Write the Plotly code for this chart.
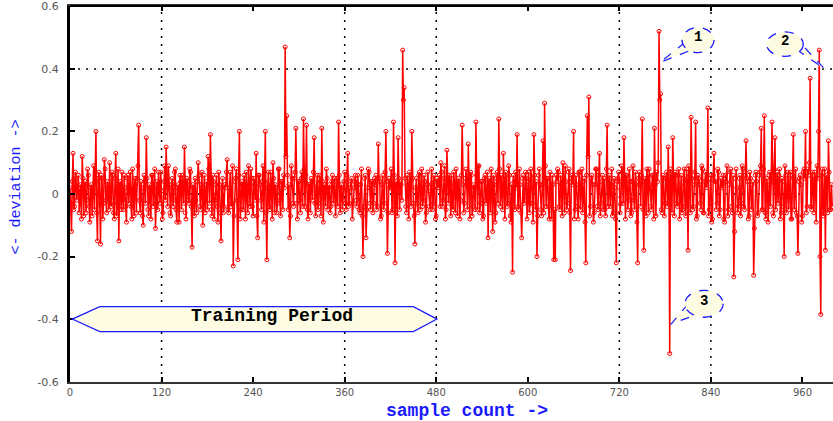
import plotly.graph_objects as go

# ---------------- data ----------------
# deviation at even sample counts 0, 2, 4, ... 998
deviation_even_samples = [
    0.02,-0.12,0.13,-0.04,0.05,0.01,-0.06,0.03,0.12,-0.07,
    0.04,-0.02,0.06,-0.09,0.03,0.01,-0.05,0.20,-0.15,0.07,
    -0.16,0.05,-0.03,0.08,-0.06,0.02,0.10,-0.04,0.06,-0.08,
    0.13,-0.03,-0.15,0.04,0.07,-0.05,0.02,-0.09,0.06,0.01,
    -0.04,0.08,-0.07,0.03,0.05,0.22,-0.06,0.02,-0.10,0.04,

    0.18,-0.05,0.03,-0.08,0.06,0.02,-0.11,0.04,0.07,-0.03,
    0.01,-0.06,0.09,0.15,-0.04,0.02,-0.07,0.05,-0.02,0.08,
    -0.09,0.03,0.06,-0.05,0.01,0.15,-0.08,0.04,-0.03,0.07,
    -0.17,0.02,0.05,-0.06,0.10,-0.04,0.03,-0.10,0.06,0.01,
    -0.05,0.08,0.19,-0.07,0.04,-0.02,0.06,-0.09,0.03,-0.15,

    0.05,-0.04,0.02,0.11,-0.06,0.07,-0.03,-0.23,0.04,0.08,
    -0.21,0.20,-0.05,0.03,0.06,-0.08,0.02,0.09,-0.04,0.05,
    -0.07,0.03,0.13,-0.14,0.06,-0.02,0.04,-0.09,0.20,-0.21,
    0.07,-0.05,0.03,0.10,-0.06,0.02,-0.03,0.08,-0.07,0.04,
    0.06,0.47,0.25,-0.05,-0.14,0.09,-0.03,0.05,0.21,-0.08,

    0.04,-0.06,0.07,0.24,-0.04,0.22,-0.08,0.03,0.05,-0.02,
    0.18,-0.07,0.06,-0.03,0.04,0.21,-0.09,0.02,0.08,-0.05,
    0.03,-0.04,0.06,0.01,-0.07,0.05,0.23,-0.06,0.03,-0.02,
    0.07,-0.05,0.13,-0.03,0.04,-0.08,0.02,0.06,-0.04,0.03,
    -0.06,0.08,-0.20,0.05,-0.14,0.02,0.07,-0.05,0.04,-0.03,

    0.03,-0.05,0.16,0.04,-0.07,0.06,-0.03,0.20,-0.19,0.05,
    0.02,-0.06,0.23,-0.22,0.04,0.18,-0.05,0.03,0.46,0.34,
    -0.04,0.06,-0.08,0.02,0.20,-0.03,-0.16,0.05,-0.06,0.07,
    0.02,-0.04,0.06,-0.09,0.03,0.01,-0.05,0.08,-0.03,0.04,
    -0.07,0.02,0.06,0.10,-0.04,0.05,-0.08,0.14,-0.03,0.04,

    0.06,-0.05,0.03,0.08,-0.07,0.04,-0.02,0.22,-0.06,0.05,
    0.03,0.16,-0.08,0.06,-0.04,0.02,0.23,-0.05,0.09,-0.03,
    0.04,-0.07,0.06,-0.03,-0.14,0.05,0.08,-0.12,0.03,-0.06,
    0.07,0.24,-0.04,0.02,0.13,-0.08,0.05,-0.03,0.06,-0.09,
    -0.25,0.04,0.07,0.19,-0.05,0.03,-0.14,0.06,-0.02,0.05,

    0.04,-0.06,0.08,-0.03,0.19,-0.05,-0.20,0.06,0.03,-0.07,
    0.17,0.29,-0.04,0.05,-0.08,0.02,0.06,-0.21,-0.21,0.04,
    0.07,-0.05,0.03,0.10,-0.06,0.04,-0.03,0.08,-0.245,0.06,
    0.20,-0.05,0.03,-0.08,0.07,0.02,-0.06,0.05,-0.22,0.25,
    0.31,-0.04,0.06,-0.09,0.03,0.08,-0.05,0.13,-0.03,0.06,

    0.05,-0.07,0.22,0.03,-0.04,0.08,-0.06,0.02,-0.22,0.05,
    0.04,-0.03,0.07,0.18,-0.08,0.06,-0.02,0.04,-0.06,0.09,
    -0.05,0.03,-0.22,0.07,-0.04,0.24,-0.18,0.05,0.08,-0.06,
    0.03,-0.05,0.06,0.21,-0.07,0.04,0.52,0.32,-0.06,0.05,
    -0.03,0.07,0.15,-0.51,0.04,0.18,-0.07,0.06,-0.04,0.08,

    0.03,-0.06,0.05,-0.04,0.08,-0.18,0.06,0.245,-0.05,0.03,
    0.23,-0.07,0.05,-0.03,0.09,-0.06,0.04,0.02,0.275,-0.05,
    0.06,-0.08,0.13,0.04,-0.03,0.07,-0.05,0.02,0.06,-0.09,
    0.04,-0.07,0.03,0.08,-0.06,-0.265,0.05,0.02,-0.04,0.06,
    -0.03,0.08,-0.05,0.17,0.04,-0.07,0.05,0.03,-0.26,0.06,

    0.04,-0.06,0.07,0.21,-0.05,0.25,-0.08,0.03,0.06,-0.04,
    0.23,-0.07,0.18,0.05,-0.03,0.08,-0.06,0.04,-0.20,0.06,
    0.03,-0.05,0.07,-0.08,0.19,0.04,-0.06,-0.19,0.05,0.03,
    -0.07,0.08,0.20,-0.04,0.06,0.37,-0.05,0.03,0.07,-0.09,
    0.05,0.46,-0.385,0.08,-0.04,-0.18,0.06,0.17,-0.05,0.03,
]
# deviation at odd sample counts 1, 3, 5, ... 999
deviation_odd_samples = [
    -0.03,0.04,-0.05,0.07,-0.02,0.06,0.02,-0.08,0.05,0.03,
    -0.06,0.08,-0.04,0.02,-0.07,0.09,0.04,-0.06,0.05,-0.03,
    0.06,-0.08,0.11,-0.02,0.04,-0.05,-0.03,0.07,-0.06,0.05,
    -0.07,0.08,0.03,-0.05,-0.02,0.06,-0.04,0.05,-0.03,0.07,
    -0.08,0.02,0.05,-0.06,0.09,-0.02,0.04,-0.07,0.06,-0.03,

    0.05,-0.07,0.02,0.06,-0.04,0.08,-0.03,-0.05,0.03,0.07,
    -0.08,0.04,-0.02,0.05,0.09,-0.06,0.03,-0.04,0.07,-0.05,
    0.02,-0.09,0.04,0.06,-0.03,-0.06,0.05,-0.02,0.08,-0.04,
    0.03,-0.07,-0.02,0.04,0.06,-0.05,0.07,0.02,-0.06,0.04,
    0.12,-0.03,-0.05,0.06,-0.08,0.03,-0.04,0.07,-0.06,0.02,

    -0.06,0.03,0.07,-0.05,0.02,-0.04,0.09,-0.07,0.05,-0.02,
    0.06,-0.08,0.04,-0.05,0.03,0.07,-0.06,-0.03,0.08,-0.04,
    0.05,-0.02,-0.07,0.06,0.03,-0.05,0.09,0.04,-0.06,0.02,
    -0.04,0.07,-0.08,0.05,0.03,-0.06,0.08,-0.02,0.04,-0.05,
    0.02,0.12,0.06,0.03,-0.07,0.05,-0.04,0.07,-0.03,0.04,

    -0.02,0.05,-0.04,0.08,0.06,-0.05,0.03,-0.06,0.04,0.07,
    -0.03,0.02,-0.05,0.06,-0.07,0.04,0.03,-0.04,0.05,0.02,
    -0.06,0.04,-0.03,0.05,0.03,-0.04,0.06,0.02,-0.05,0.04,
    -0.03,0.06,-0.04,0.02,0.05,-0.03,0.04,-0.02,0.06,-0.05,
    0.03,-0.07,-0.04,0.06,-0.05,0.08,-0.03,0.04,-0.06,0.05,

    0.06,-0.04,0.05,-0.08,0.03,-0.05,0.07,0.04,-0.06,0.02,
    0.08,-0.05,0.06,0.03,-0.07,0.05,0.04,-0.02,0.30,0.05,
    -0.06,0.03,0.07,-0.04,0.05,-0.07,0.02,-0.03,0.06,-0.05,
    0.08,-0.02,0.04,-0.06,0.07,-0.04,0.03,-0.05,0.06,-0.08,
    0.05,0.03,-0.04,0.07,-0.02,0.09,-0.05,0.03,0.06,-0.07,

    -0.04,0.07,-0.06,0.02,0.05,-0.08,0.06,0.03,-0.03,0.08,
    -0.05,0.04,0.07,-0.07,0.03,-0.05,0.06,0.09,-0.06,0.04,
    -0.08,0.05,-0.02,0.07,0.04,-0.06,0.03,0.06,-0.09,0.05,
    -0.03,0.08,0.06,-0.05,0.02,0.07,-0.04,0.09,-0.07,0.03,
    0.06,-0.05,0.02,-0.04,0.08,-0.06,0.05,-0.03,0.07,-0.08,

    0.07,-0.03,0.05,-0.09,0.06,0.04,-0.07,0.08,-0.05,0.03,
    -0.06,0.09,0.05,-0.04,0.07,-0.08,0.03,-0.05,0.06,0.08,
    -0.04,0.06,-0.07,0.04,0.09,-0.05,0.07,-0.06,0.05,0.03,
    -0.08,0.06,-0.04,0.07,-0.05,0.08,0.04,-0.09,0.06,0.12,
    -0.07,0.05,0.03,-0.06,0.08,-0.04,0.06,-0.07,0.04,-0.05,

    -0.05,0.08,-0.04,0.06,0.03,-0.07,0.05,-0.08,0.04,0.07,
    -0.06,0.09,-0.03,0.05,0.06,-0.05,0.08,-0.07,0.04,-0.02,
    0.07,-0.09,0.05,0.03,0.06,-0.05,0.04,-0.07,0.05,0.08,
    -0.04,0.06,-0.08,0.03,0.07,0.10,0.30,-0.05,0.06,-0.07,
    0.05,-0.04,0.03,0.08,-0.06,0.05,0.07,-0.03,0.06,-0.08,

    0.06,-0.05,0.08,-0.07,0.04,0.09,-0.06,0.05,-0.04,0.07,
    -0.08,0.06,0.03,-0.05,0.08,-0.06,0.07,0.04,-0.07,0.05,
    -0.09,0.06,0.04,-0.05,0.08,-0.07,0.05,0.03,-0.08,0.06,
    0.09,-0.05,0.07,-0.04,0.06,-0.12,0.08,-0.06,0.05,-0.07,
    0.09,-0.04,0.06,0.05,-0.08,0.07,-0.05,0.04,-0.11,0.07,

    -0.07,0.06,0.09,-0.05,0.08,-0.06,0.05,-0.09,0.07,0.04,
    -0.06,0.08,-0.05,0.07,0.06,-0.08,0.05,-0.04,0.09,-0.06,
    0.07,0.05,-0.08,0.06,-0.05,0.08,-0.07,0.04,0.06,-0.09,
    0.07,0.05,-0.06,0.08,0.10,-0.04,0.07,-0.06,0.05,0.09,
    0.20,-0.20,0.06,-0.07,0.08,0.05,-0.06,0.07,-0.05,-0.04,
]

x_tick_values = [0, 120, 240, 360, 480, 600, 720, 840, 960]
x_tick_labels = ["0", "120", "240", "360", "480", "600", "720", "840", "960"]
y_tick_values = [-0.6, -0.4, -0.2, 0, 0.2, 0.4, 0.6]
y_tick_labels = ["-0.6", "-0.4", "-0.2", "0", "0.2", "0.4", "0.6"]
x_grid_values = [120, 360, 480, 720, 840]
y_grid_values = [0, 0.4]

training_start, training_end = 0, 480
training_label = "Training Period"
training_level = -0.4

callout_labels = ["1", "2", "3"]

# merge the even and odd samples into one series ordered by sample count
points = [(2 * i, v) for i, v in enumerate(deviation_even_samples)] + \
         [(2 * i + 1, v) for i, v in enumerate(deviation_odd_samples)]
points.sort()
sample_count = [p[0] for p in points]
deviation = [p[1] for p in points]

# ---------------- figure ----------------
RED = "#ff0000"
BLUE = "#1a1aff"
CREAM = "#fdfbe1"
GRID_DASH = "2px,6px"

fig = go.Figure()
fig.add_trace(go.Scatter(
    x=sample_count, y=deviation, mode="lines+markers",
    line=dict(color=RED, width=1.5),
    marker=dict(symbol="circle-open", size=4, color=RED, line=dict(width=1, color=RED)),
    showlegend=False, hoverinfo="skip",
))

shapes = []
for gx in x_grid_values:
    shapes.append(dict(type="line", xref="x", yref="paper", x0=gx, x1=gx, y0=0, y1=1,
                       line=dict(color="black", width=1.5, dash=GRID_DASH), layer="below"))
for gy in y_grid_values:
    shapes.append(dict(type="line", xref="paper", yref="y", x0=0, x1=1, y0=gy, y1=gy,
                       line=dict(color="black", width=1.5, dash=GRID_DASH), layer="below"))

# training period double arrow
h = 0.04
x_l, x_r = training_start + 3, training_end + 1
head_l, head_r = x_l + 36, x_r - 31
path = (f"M {x_l},{training_level} L {head_l},{training_level + h} L {head_r},{training_level + h} "
        f"L {x_r},{training_level} L {head_r},{training_level - h} L {head_l},{training_level - h} Z")
shapes.append(dict(type="path", xref="x", yref="y", path=path, fillcolor=CREAM,
                   line=dict(color=BLUE, width=1.2), layer="above"))

# callouts: tail (tip, base A, base B) and ellipse (centre, half widths)
callout_geom = [
    dict(tip=(773, 0.42), a=(806, 0.485), b=(816, 0.462), c=(823, 0.492), rx=21, ry=0.040),
    dict(tip=(989, 0.40), a=(952, 0.462), b=(962, 0.470), c=(937, 0.479), rx=24, ry=0.039),
    dict(tip=(788, -0.415), a=(810, -0.352), b=(822, -0.385), c=(831, -0.351), rx=25, ry=0.043),
]
annotations = []
for lab, g in zip(callout_labels, callout_geom):
    (tx, ty), (ax, ay), (bx, by) = g["tip"], g["a"], g["b"]
    shapes.append(dict(type="path", xref="x", yref="y",
                       path=f"M {ax},{ay} L {tx},{ty} L {bx},{by} Z",
                       fillcolor=CREAM, line=dict(color=BLUE, width=1.2, dash="dash"), layer="above"))
    cx, cy = g["c"]
    shapes.append(dict(type="circle", xref="x", yref="y",
                       x0=cx - g["rx"], x1=cx + g["rx"], y0=cy - g["ry"], y1=cy + g["ry"],
                       fillcolor=CREAM, line=dict(color=BLUE, width=1.3, dash="dash"), layer="above"))
    annotations.append(dict(x=cx, y=cy + 0.01, xref="x", yref="y", text=f"<b>{lab}</b>",
                            showarrow=False, font=dict(family="Liberation Mono", size=14, color="black")))

annotations.append(dict(x=265, y=training_level + 0.01,
                        xref="x", yref="y", text=f"<b>{training_label}</b>", showarrow=False,
                        font=dict(family="Liberation Mono", size=18, color="black")))

# axis titles
annotations.append(dict(x=0.52, y=-0.077, xref="paper", yref="paper", text="<b>sample count -&gt;</b>",
                        showarrow=False, xanchor="center", yanchor="middle",
                        font=dict(family="Liberation Mono", size=18, color=BLUE)))
annotations.append(dict(x=-0.07, y=0.519, xref="paper", yref="paper", text="&lt;- deviation -&gt;",
                        showarrow=False, xanchor="center", yanchor="middle", textangle=-90,
                        font=dict(family="Liberation Mono", size=15, color=BLUE)))

fig.update_layout(
    width=833, height=421,
    margin=dict(l=70, r=0, t=6, b=39),
    paper_bgcolor="white", plot_bgcolor="white",
    shapes=shapes, annotations=annotations,
    showlegend=False,
)
fig.update_xaxes(
    range=[0, 1000], tickvals=x_tick_values, ticktext=x_tick_labels,
    showgrid=False, zeroline=False, automargin=False,
    showline=True, linecolor="#333333", linewidth=2, mirror="ticks",
    ticks="inside", ticklen=5, tickwidth=2, tickcolor="black",
    tickfont=dict(family="DejaVu Sans", size=10, color="#555555"),
)
fig.update_yaxes(
    range=[-0.601, 0.601], tickvals=y_tick_values, ticktext=y_tick_labels,
    showgrid=False, zeroline=False, automargin=False,
    showline=True, linecolor="black", linewidth=3,
    ticks="inside", ticklen=5, tickwidth=1.5, tickcolor="black",
    ticklabelstandoff=6,
    tickfont=dict(family="DejaVu Sans", size=11, color="#555555"),
)
fig.add_shape(type="line", xref="paper", yref="paper", x0=0, x1=1, y0=1, y1=1,
              line=dict(color="black", width=2))

fig.write_html("out.html", config={"displayModeBar": False},
               post_script="document.body.style.margin='0px';")
